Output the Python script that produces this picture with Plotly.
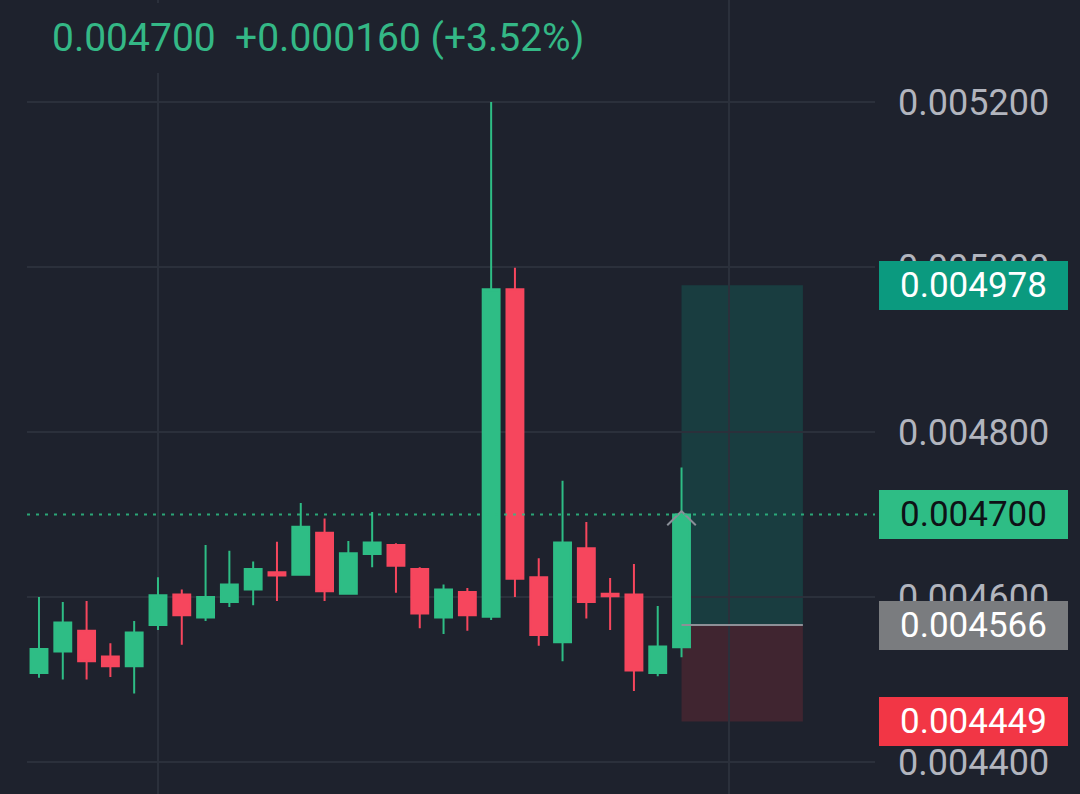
import plotly.graph_objects as go

# ---- data ----
candle_idx = list(range(28))
opens = [0.004508, 0.004534, 0.004559, 0.004528, 0.004516, 0.004566, 0.004603, 0.004575,
         0.004594, 0.004609, 0.004630, 0.004627, 0.004678, 0.004604, 0.004652, 0.004663,
         0.004634, 0.004575, 0.004606, 0.004576, 0.004973, 0.004624, 0.004545, 0.004659,
         0.004604, 0.004603, 0.004508, 0.004539]
highs = [0.004600, 0.004594, 0.004595, 0.004544, 0.004571, 0.004624, 0.004609, 0.004663,
         0.004656, 0.004643, 0.004667, 0.004714, 0.004695, 0.004668, 0.004703, 0.004665,
         0.004636, 0.004615, 0.004611, 0.005200, 0.004999, 0.004647, 0.004741, 0.004691,
         0.004623, 0.004640, 0.004589, 0.004757]
lows = [0.004502, 0.004500, 0.004500, 0.004503, 0.004483, 0.004560, 0.004542, 0.004571,
        0.004588, 0.004590, 0.004595, 0.004626, 0.004595, 0.004603, 0.004636, 0.004605,
        0.004562, 0.004555, 0.004559, 0.004572, 0.004600, 0.004541, 0.004522, 0.004574,
        0.004560, 0.004486, 0.004504, 0.004527]
closes = [0.004537, 0.004569, 0.004522, 0.004516, 0.004557, 0.004602, 0.004578, 0.004600,
          0.004615, 0.004634, 0.004626, 0.004685, 0.004607, 0.004653, 0.004666, 0.004638,
          0.004580, 0.004609, 0.004578, 0.004973, 0.004622, 0.004554, 0.004666, 0.004594,
          0.004601, 0.004511, 0.004540, 0.004700]

y_ticks = [0.0044, 0.0046, 0.0048, 0.0050, 0.0052]

take_profit = 0.004978
entry_price = 0.004566
stop_loss = 0.004449
position_start = 27
position_end = 32.1

# ---- styles ----
BG = "#1e222d"
GRID = "#2b303b"
UP = "#2ebd85"
DOWN = "#f6465d"
FONT = "Roboto"

last_close = closes[-1]
prev_close = closes[-2]
chg = last_close - prev_close
pct = chg / prev_close * 100

fig = go.Figure()

# chevron marker on the last candle (drawn under the candle)
li = candle_idx[-1]
fig.add_trace(go.Scatter(
    x=[li - 0.6, li, li + 0.6],
    y=[last_close - 0.000013, last_close + 0.000004, last_close - 0.000013],
    mode="lines", line=dict(color="#8a8f98", width=2),
    hoverinfo="skip", showlegend=False))

fig.add_trace(go.Candlestick(
    x=candle_idx, open=opens, high=highs, low=lows, close=closes,
    increasing=dict(line=dict(color=UP, width=2), fillcolor=UP),
    decreasing=dict(line=dict(color=DOWN, width=2), fillcolor=DOWN),
    whiskerwidth=0, showlegend=False))

shapes = [
    dict(type="rect", xref="x", yref="y", x0=position_start, x1=position_end,
         y0=entry_price, y1=take_profit, fillcolor="rgba(8,153,129,0.23)",
         line=dict(width=0), layer="below"),
    dict(type="rect", xref="x", yref="y", x0=position_start, x1=position_end,
         y0=stop_loss, y1=entry_price, fillcolor="rgba(242,54,69,0.16)",
         line=dict(width=0), layer="below"),
    dict(type="line", xref="x", yref="y", x0=position_start, x1=position_end,
         y0=entry_price, y1=entry_price, line=dict(color="#8d9097", width=2)),
    dict(type="line", xref="paper", yref="y", x0=0, x1=1,
         y0=last_close, y1=last_close,
         line=dict(color="rgba(46,189,133,0.85)", width=2, dash="3px,6px")),
]

def badge(val, bg, fg):
    return dict(xref="paper", yref="y", x=1, xanchor="left", xshift=4,
                y=val, yanchor="middle", text=f"{val:.6f}", showarrow=False,
                font=dict(family=FONT, size=35, color=fg), bgcolor=bg,
                width=189, height=49, align="center", borderpad=0, borderwidth=0)

annotations = [
    badge(take_profit, "#0b9a7f", "#ffffff"),
    badge(last_close, UP, "#0e1116"),
    badge(entry_price, "#7a7c7f", "#ffffff"),
    badge(stop_loss, "#f23645", "#ffffff"),
    dict(xref="paper", yref="paper", x=0, xshift=13, xanchor="left",
         y=1, yshift=-38, yanchor="middle",
         text=f"{last_close:.6f}&nbsp;&nbsp;+{chg:.6f} (+{pct:.2f}%)",
         showarrow=False, font=dict(family=FONT, size=39, color="#34b886"),
         bgcolor=BG, borderpad=12, borderwidth=0),
]

fig.update_layout(
    width=1080, height=794,
    margin=dict(l=27, r=205, t=0, b=0),
    paper_bgcolor=BG, plot_bgcolor=BG,
    boxgap=0.29, boxgroupgap=0,
    shapes=shapes, annotations=annotations,
    showlegend=False,
    xaxis=dict(range=[-0.504, 35.13], showgrid=True, gridcolor=GRID, gridwidth=2,
               tick0=5, dtick=24, showticklabels=False, zeroline=False,
               rangeslider=dict(visible=False), showline=False, fixedrange=True),
    yaxis=dict(side="right", range=[0.0043612, 0.0053236], tickvals=y_ticks,
               tickformat=".6f", showgrid=True, gridcolor=GRID, gridwidth=2,
               zeroline=False, showline=False, ticks="",
               tickfont=dict(family=FONT, size=36, color="#b2b5be"),
               ticklabelstandoff=22, fixedrange=True),
)

fig.write_html("out.html")
